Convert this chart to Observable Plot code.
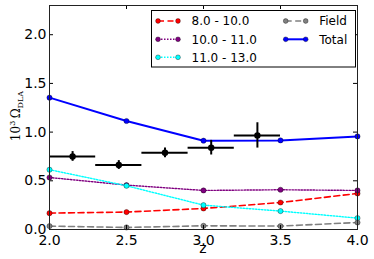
<!DOCTYPE html>
<html>
<head>
<meta charset="utf-8">
<script src="https://cdn.jsdelivr.net/npm/d3@7"></script>
<script src="https://cdn.jsdelivr.net/npm/@observablehq/plot@0.6"></script>
<style>
  html, body { margin: 0; padding: 0; background: #fff; }
  #chart { position: relative; width: 374px; height: 259px; }
</style>
</head>
<body>
<div id="chart"></div>
<script>
// ---- data ----
const z = [2.0, 2.5, 3.0, 3.5, 4.0];
const total   = [1.354, 1.114, 0.912, 0.915, 0.956];
const m10_11  = [0.534, 0.456, 0.401, 0.408, 0.401];
const m11_13  = [0.614, 0.449, 0.250, 0.189, 0.117];
const m8_10   = [0.168, 0.179, 0.216, 0.277, 0.370];
const field   = [0.035, 0.021, 0.038, 0.035, 0.072];

const obsZ   = [2.15, 2.45, 2.75, 3.05, 3.35];
const obsZlo = [2.0, 2.3, 2.6, 2.9, 3.2];
const obsZhi = [2.3, 2.6, 2.9, 3.2, 3.5];
const obsY   = [0.750, 0.662, 0.788, 0.840, 0.966];
const obsErr = [0.050, 0.045, 0.050, 0.075, 0.130];

const xTicks = [2.0, 2.5, 3.0, 3.5, 4.0];
const yTicks = [0.0, 0.5, 1.0, 1.5, 2.0];

const seriesNames = ["8.0 - 10.0", "10.0 - 11.0", "11.0 - 13.0", "Field", "Total"];
const seriesValues = [m8_10, m10_11, m11_13, field, total];
const seriesColors = ["#ff0000", "#800080", "#00ffff", "#808080", "#0000ff"];
const seriesDash = ["6,3.5", "1.5,1.5", "1.5,1.5", "6,3.5", null];
const seriesWidth = [1.6, 1.4, 1.4, 1.6, 2];

// ---- build ----
const W = 374, H = 259, mL = 49, mR = 17, mT = 5, mB = 30;
const innerH = H - mT - mB;
const innerW = W - mL - mR;

const rows = (vals) => z.map((zz, i) => ({z: zz, v: vals[i]}));
const obs = obsZ.map((zz, i) => ({z: zz, lo: obsZlo[i], hi: obsZhi[i], y: obsY[i], e: obsErr[i]}));

const lineMarks = [];
seriesValues.forEach((vals, k) => {
  const d = rows(vals);
  lineMarks.push(Plot.line(d, {x: "z", y: "v", stroke: seriesColors[k], strokeWidth: seriesWidth[k], strokeDasharray: seriesDash[k]}));
  lineMarks.push(Plot.dot(d, {x: "z", y: "v", r: 2.6, fill: seriesColors[k], stroke: "#000", strokeWidth: 0.6, strokeOpacity: 0.6}));
});

const plot = Plot.plot({
  width: W, height: H,
  marginLeft: mL, marginRight: mR, marginTop: mT, marginBottom: mB,
  x: {domain: [2, 4]},
  y: {domain: [0, 2.3]},
  style: {background: "white", fontFamily: "DejaVu Sans"},
  marks: [
    ...lineMarks,
    Plot.ruleY(obs, {x1: "lo", x2: "hi", y: "y", stroke: "#000", strokeWidth: 2}),
    Plot.ruleX(obs, {x: "z", y1: d => d.y - d.e, y2: d => d.y + d.e, stroke: "#000", strokeWidth: 2}),
    Plot.dot(obs, {x: "z", y: "y", r: 3.2, fill: "#000"}),
    Plot.tickX(xTicks, {x: d => d, insetTop: innerH - 4, stroke: "#000"}),
    Plot.tickX(xTicks, {x: d => d, insetBottom: innerH - 4, stroke: "#000"}),
    Plot.tickY(yTicks, {y: d => d, insetRight: innerW - 4, stroke: "#000"}),
    Plot.tickY(yTicks, {y: d => d, insetLeft: innerW - 4, stroke: "#000"}),
    Plot.frame({stroke: "#222", strokeWidth: 1}),
    Plot.axisX({ticks: xTicks, tickFormat: d3.format(".1f"), tickSize: 0, tickPadding: 6, label: null, fontSize: 14, fill: "#000"}),
    Plot.axisY({ticks: yTicks, tickFormat: d3.format(".1f"), tickSize: 0, tickPadding: 3, label: null, fontSize: 14, fill: "#000"})
  ]
});
document.getElementById("chart").appendChild(plot);

const svg = d3.select(plot);

// x label
svg.append("text").attr("x", 203).attr("y", 253).attr("text-anchor", "middle")
  .attr("font-family", "DejaVu Sans").attr("font-size", 14).attr("fill", "#000").text("z");

// y label (mathtext-like)
const yl = svg.append("text").attr("transform", "translate(20,116) rotate(-90)")
  .attr("text-anchor", "middle").attr("font-family", "DejaVu Serif").attr("font-size", 12).attr("fill", "#000");
yl.append("tspan").text("10");
yl.append("tspan").attr("dy", -5).attr("font-size", 8).text("3");
yl.append("tspan").attr("dy", 5).text("\u2009\u03A9");
yl.append("tspan").attr("dy", 3).attr("font-size", 8).text("DLA");

// legend
const lg = svg.append("g").attr("font-family", "DejaVu Sans").attr("font-size", 12).attr("text-anchor", "start");
lg.append("rect").attr("x", 151.5).attr("y", 10.5).attr("width", 204).attr("height", 56.5)
  .attr("fill", "#fff").attr("stroke", "#000").attr("stroke-width", 1);
const legendPos = [
  {c: 0, r: 0}, {c: 0, r: 1}, {c: 0, r: 2}, {c: 1, r: 0}, {c: 1, r: 1}
];
const colX = [158, 285.7];
const rowY = [21, 39.3, 57.3];
seriesNames.forEach((name, k) => {
  const x0 = colX[legendPos[k].c], y0 = rowY[legendPos[k].r];
  lg.append("line").attr("x1", x0).attr("x2", x0 + 20).attr("y1", y0).attr("y2", y0)
    .attr("stroke", seriesColors[k]).attr("stroke-width", seriesWidth[k])
    .attr("stroke-dasharray", seriesDash[k]);
  [x0, x0 + 20].forEach(cx => lg.append("circle").attr("cx", cx).attr("cy", y0).attr("r", 2.4)
    .attr("fill", seriesColors[k]).attr("stroke", "#000").attr("stroke-width", 0.6).attr("stroke-opacity", 0.6));
  lg.append("text").attr("x", x0 + 33.5).attr("y", y0).attr("dy", "0.36em")
    .attr("text-anchor", "start").attr("fill", "#000").text(name);
});
</script>
</body>
</html>
